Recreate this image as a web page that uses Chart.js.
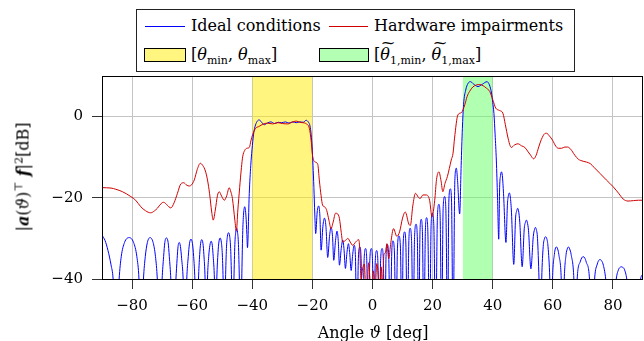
<!DOCTYPE html>
<html>
<head>
<meta charset="utf-8">
<script src="https://cdn.jsdelivr.net/npm/chart.js@4.4.1/dist/chart.umd.min.js"></script>
<style>
  body { margin: 0; background: #fff; }
  #wrap { position: relative; width: 644px; height: 341px; font-family: 'DejaVu Serif', serif; color: #000; }
  #myChart { position: absolute; left: 0; top: 0; }
  .abs { position: absolute; white-space: nowrap; }
  #legend { left: 136px; top: 9px; width: 437px; height: 61px; border: 1.5px solid #222; background: #fff; }
  .lbl { font-size: 16px; line-height: 16px; transform: translateY(-50%); }
  .line { height: 1px; }
  .swatch { border: 1px solid #000; box-sizing: border-box; }
  sub { font-size: 11px; vertical-align: -4px; line-height: 0; }
  sup { font-size: 11px; vertical-align: 6px; line-height: 0; }
  .tl { position: relative; display: inline-block; }
  .tilde { position: absolute; left: 2px; right: -2px; top: -12px; text-align: center; font-size: 14px; font-style: normal; transform: scaleX(1.3); }
  #ytitle { left: 23px; top: 177px; font-size: 16px; transform: translate(-50%, -50%) rotate(-90deg); }
  #xtitle { left: 373px; top: 332px; font-size: 16px; transform: translate(-50%, -50%); }
</style>
</head>
<body>
<div id="wrap">
  <canvas id="myChart" width="644" height="341"></canvas>
  <div id="legend" class="abs"></div>
  <div class="abs line" style="left:145px; top:26px; width:40px; background:#0000ff;"></div>
  <div class="abs lbl" style="left:191px; top:26px;">Ideal conditions</div>
  <div class="abs line" style="left:329px; top:26px; width:39px; background:#d00000;"></div>
  <div class="abs lbl" style="left:374px; top:26px;">Hardware impairments</div>
  <div class="abs swatch" style="left:144px; top:48px; width:42px; height:14px; background:#fff57f;"></div>
  <div class="abs lbl" style="left:191px; top:55px;">[<i>θ</i><sub>min</sub>, <i>θ</i><sub>max</sub>]</div>
  <div class="abs swatch" style="left:319px; top:48px; width:50px; height:14px; background:#b3ffb3;"></div>
  <div class="abs lbl" style="left:374px; top:55px;">[<span class="tl"><i>θ</i><span class="tilde">~</span></span><sub>1,min</sub>, <span class="tl"><i>θ</i><span class="tilde">~</span></span><sub>1,max</sub>]</div>
  <div id="ytitle" class="abs">|<b><i>a</i></b>(<i>ϑ</i>)<sup>⊤</sup> <b><i>f</i></b>|<sup>2</sup>[dB]</div>
  <div id="xtitle" class="abs">Angle <i>ϑ</i> [deg]</div>
</div>
<script>
const ctx = document.getElementById('myChart');

// angle ranges of the two shaded regions
const yellowBand = [-40, -20];
const greenBand = [30, 40];
const yMin = -40;
const yMax = 10;
const xTicks = [-80, -60, -40, -20, 0, 20, 40, 60, 80];
const yTicks = [-40, -20, 0];

// ideal conditions (blue)
const blueAngle = [
  -90, -89, -88, -87, -86.3, -85.3,
  -84.3, -83.6, -82.5, -81, -79.5, -78.4, -77.7, -77,
  -76.2, -75.6, -74.9, -74, -73, -72.2, -71.6, -70.8,
  -70, -69.5, -69.1, -68.6, -68, -67.6, -67.1, -66.3,
  -65.4, -65, -64.7, -64.3, -63.9, -63.5, -63, -62.4,
  -61.8, -61.3, -60.9, -60.4, -59.9, -59.5, -59.1, -58.5,
  -57.9, -57.5, -57.2, -56.8, -56.4, -56.1, -55.7, -55.3,
  -54.9, -54.5, -54.1, -53.7, -53.3, -53, -52.6, -52.2,
  -51.8, -51.4, -51.1, -50.7, -50.3, -50, -49.7, -49.3,
  -48.9, -48.6, -48.3, -47.9, -47.5, -47.2, -46.9, -46.5,
  -46.1, -45.8, -45.5, -45.2, -44.9, -44.6, -44.3, -43.9,
  -43.5, -43.2, -42.9, -42.5, -42.1, -41.8, -41.6,
  -41, -40.5, -40.1, -39.6, -39.1, -38.4, -37.7, -36.9, -36, -35, -33.8, -32.6, -31.4, -30.2, -29,
  -27.8, -26.6, -25.4, -24.2, -23, -22.1, -21.3, -20.8, -20.4, -20.1, -19.8, -19.5, -19.2, -18.9,
  -18.4, -17.9, -17.5, -17.1,
  -16.5, -16, -15.5, -14.9,
  -14.3, -13.8, -13.3, -12.9,
  -12.3, -11.8, -11.4, -11,
  -10.4, -9.9, -9.5, -9,
  -8.5, -8, -7.6, -7.1,
  -6.6, -6.1, -5.7, -5.2,
  -4.7, -4.2, -3.8, -3.3,
  -2.8, -2.3, -1.9, -1.4,
  -0.9, -0.4, 0, 0.5,
  0.9, 1.4, 1.8, 2.3,
  2.7, 3.2, 3.6, 4.1,
  4.5, 4.9, 5.4, 5.9,
  6.4, 6.8, 7.3, 7.8,
  8.3, 8.8, 9.3, 9.8,
  10.2, 10.7, 11.1, 11.6,
  12.1, 12.5, 13, 13.5,
  14, 14.5, 14.9, 15.4,
  15.8, 16.2, 16.6, 17.1,
  17.6, 18, 18.4, 19,
  19.5, 19.9, 20.4, 21,
  21.6, 22.1, 22.5, 23,
  23.5, 24, 24.4, 25,
  25.4, 25.9, 26.3, 26.8,
  27.4, 27.9, 28.3, 29,
  29.5, 29.9, 30.3, 31, 31.8, 32.6, 33.5, 35.1, 36.6, 38.1, 38.9, 39.6, 40, 40.4, 40.8, 41.2, 41.6, 42,
  42.3, 42.6, 42.9, 43.2, 43.6, 44.4,
  44.9, 45.2, 45.5, 45.8, 46.2, 47,
  47.6, 48, 48.3, 48.6, 49, 49.8,
  50.5, 50.9, 51.2, 51.5, 51.9, 52.7,
  53.5, 53.9, 54.2, 54.5, 54.9, 55.4, 55.9,
  56.3, 56.8, 57.2, 57.6, 58, 58.4, 59, 59.5,
  59.9, 60.5, 60.8, 61.2, 61.6, 62, 62.8, 63.3,
  63.8, 64.4, 64.8, 65.2, 65.6, 66.1, 67, 67.6,
  68.1, 69.1, 69.6, 70.1, 70.6, 71.1, 72.2, 73,
  73.9, 74.8, 75.3, 75.7, 76.1, 76.7, 77.6, 79.3,
  81.1, 81.9, 82.4, 82.8, 83.2, 83.8, 84.6, 86.8,
  89.2, 90
];
const blueGain = [
  -29.2, -30.5, -33, -36.5, -40, -55,
  -40, -34.5, -31, -29.8, -31, -34.5, -40, -55,
  -40, -34.5, -31, -29.8, -31, -34.5, -40, -55,
  -40, -34.5, -31, -29.9, -31, -34.5, -40, -55,
  -40, -35, -32, -31, -32, -35, -40, -55,
  -40, -34.5, -31.3, -30.2, -31.3, -34.5, -40, -55,
  -40, -34, -31.3, -30.3, -31.3, -34, -40, -55,
  -40, -34.5, -31.7, -30.7, -31.7, -34.5, -40, -55,
  -40, -33.5, -30.9, -29.9, -30.9, -33.5, -40, -55,
  -40, -32.5, -29.6, -28.6, -29.6, -32.5, -40, -55,
  -40, -31.5, -28.5, -27.5, -28.5, -31.5, -40, -55,
  -40, -29, -24, -22.2, -24.5, -29, -32.3,
  -18.9, -12, -8.2, -4.5, -2.5, -1.2, -0.8, -1.4, -2, -1.6, -1.3, -1.7, -1.4, -1.5, -1.3,
  -1.6, -1.3, -1.5, -1.3, -1.4, -0.9, -1.4, -2.3, -4.5, -7.4, -12, -17.5, -24, -28.8,
  -23.5, -22, -24.5, -32.9,
  -27, -25, -27, -34.7,
  -29.5, -27.3, -29.5, -35.4,
  -30.5, -28.2, -30.5, -36.6,
  -32.5, -30.4, -32.5, -37.4,
  -33.5, -31.3, -33.5, -37.9,
  -34, -31.7, -34, -55,
  -35, -32.1, -35, -55,
  -35.5, -32.5, -35.5, -55,
  -35.5, -32.5, -35.5, -55,
  -36, -33, -36, -55,
  -35.5, -32.5, -35.5, -55,
  -34.5, -31.5, -34.5, -55,
  -33.6, -30.6, -33.6, -55,
  -32.4, -29.4, -32.4, -55,
  -31.4, -28.4, -31.4, -55,
  -30.5, -27.5, -30.5, -55,
  -29.5, -26.5, -29.5, -55,
  -28.3, -25.3, -28.3, -55,
  -27.9, -24.9, -27.9, -55,
  -26.8, -23.8, -26.8, -55,
  -24.6, -21.6, -24.6, -55,
  -22.7, -19.7, -22.7, -55,
  -20.8, -17.8, -20.8, -55,
  -15.7, -12.7, -15.7, -24,
  -12, -3, 3, 6.5, 8.2, 8.6, 8.1, 7.4, 8, 8.6, 7.8, 5.8, 3.5, 0.8, -4.5, -10.7, -20, -30.2,
  -17.5, -14.5, -13.6, -14.5, -19, -31,
  -21.5, -19.5, -18.8, -19.5, -23, -36.4,
  -25, -23.2, -22.6, -23.2, -26, -37,
  -27.5, -26, -25.5, -26, -28, -37.5,
  -29.5, -27.8, -27.3, -27.8, -30, -40, -55,
  -40, -32, -30.1, -29.6, -30.1, -32, -40, -55,
  -40, -34, -32.6, -32.1, -32.6, -34, -40, -55,
  -40, -34, -32.6, -32.1, -32.6, -34, -40, -55,
  -40, -35.8, -34.8, -34.5, -34.8, -35.8, -40, -55,
  -40, -36.3, -35.4, -35.2, -35.4, -36.3, -40, -55,
  -40, -37.6, -37.1, -37, -37.1, -37.6, -40, -55,
  -40, -38.7
];

// hardware impairments (red)
const redAngle = [
  -90, -87, -85.4, -83.2, -80.4, -78.8, -77.1, -75.5, -73.8, -72.5,
  -71.6, -70.3, -69.5, -68.3, -67.1, -66, -64.9, -63.8, -62.8, -61.8,
  -61, -60.2, -59.3, -58.3, -57.3, -56.5, -55.6, -54.9, -54.2, -53.5,
  -53, -52.3, -51.6, -51, -50.2, -49.3, -48.5, -47.7, -47.1, -46.6,
  -45.8, -45.3, -44.8, -44.2, -43.6, -43.2, -42.5, -41.8, -41, -40.4,
  -39.9, -39, -37.7, -36.5, -35, -33.2, -31.5, -30, -28.2, -26.8,
  -25.4, -24.2, -23.2, -22, -21, -20.4, -19.9, -19, -18.2, -17.7,
  -17.1, -16.6, -15.8, -15.2, -14.5, -13.8, -13.1, -12.3, -11.7, -11,
  -10.4, -9.9, -9, -8.2, -7.4, -6.6, -5.5, -4.6, -4.2, -3.8,
  -3.3, -2.7, -2.3, -1.8, -1.3, -0.8, -0.3, 0.3, 0.9, 1.4,
  1.9, 2.4, 2.9, 3.3, 3.8, 4.3, 4.8, 5.4, 6.1, 7,
  8.1, 9, 10, 10.9, 12.1, 12.6, 13.4, 14.3, 15.2, 15.8,
  16.8, 17.9, 19, 19.8, 20.7, 21.3, 22.1, 22.8, 23.4, 24.1,
  24.9, 26.2, 26.8, 27.3, 28.4, 29.6, 30.7, 31.5, 32.3, 33.4,
  34.6, 35.7, 36.8, 37.9, 39, 40, 41, 42.3, 43.4, 44.2,
  45.1, 45.8, 46.2, 47.2, 48.4, 49.6, 50.7, 51.6, 52.6, 53.6,
  54.4, 55.3, 56.2, 57.3, 57.9, 58.9, 59.9, 61, 61.8, 62.9,
  64, 64.9, 65.9, 67.3, 68.5, 70.1, 71.2, 72.5, 73.7, 75.7,
  77.8, 80.1, 82, 83.4, 85, 86.8, 88.5, 90
];
const redGain = [
  -17.5, -17.6, -17.9, -18.5, -19.7, -20.6, -22.2, -23.2, -23.7, -23.2,
  -22.6, -21.4, -21.1, -21.8, -22.5, -21.2, -18.9, -16.6, -16.3, -16.9,
  -17.1, -16.8, -15.6, -13, -11.5, -12, -13.4, -15.6, -19, -23.5,
  -25.5, -23, -19.5, -18.5, -19.6, -20.6, -19.5, -17.5, -18.6, -20.2,
  -25.5, -28.2, -23, -17.5, -12.5, -9.9, -8.3, -7.8, -7.6, -5.8,
  -4.5, -3, -2.4, -1.9, -1.6, -1.8, -1.5, -1.7, -1.8, -1.4,
  -1.1, -1.4, -1.5, -1.8, -2.9, -6, -9.9, -11.2, -11.8, -15.6,
  -19.5, -21.8, -22.3, -23.2, -25.5, -27.6, -26, -23.8, -23.9, -25.1,
  -28.5, -30.9, -30.5, -30, -30.9, -31.7, -30.8, -30.3, -33, -40.5,
  -37.5, -36.3, -42, -43, -36, -40.5, -45, -38, -43, -36.2,
  -39, -45, -37, -42, -34, -33.5, -31.3, -35, -31, -27.6,
  -29.5, -28.4, -25, -23.5, -26.5, -26.8, -22, -18.9, -19.8, -20.2,
  -19.3, -19.3, -20.6, -24.7, -20.6, -15.5, -13.6, -15.8, -18.5, -16.5,
  -14.8, -10.7, -9, -5.3, 0.4, 1, 2.9, 5, 6.2, 7.3,
  7.8, 7.9, 7.6, 7, 6.2, 4.2, 2.1, 1.5, 0.8, -2,
  -5.3, -7.2, -7.6, -7, -6.7, -7.2, -7.6, -8.5, -9.5, -10.4,
  -9.6, -7.5, -5.6, -4.2, -4.1, -4.8, -5.8, -7.3, -7.8, -7.8,
  -7.5, -7.5, -8, -9.5, -10.5, -11, -11.2, -11.6, -12.5, -14,
  -15.6, -17.3, -19, -20.3, -20.8, -20.7, -20.6, -20.6
];

if (blueAngle.length != blueGain.length || redAngle.length != redGain.length) {
  throw new Error('length mismatch ' + blueAngle.length + '/' + blueGain.length + ' ' + redAngle.length + '/' + redGain.length);
}

function toPoints(xs, ys) {
  return xs.map((x, i) => ({x: x, y: ys[i]}));
}
function band(r) {
  return [{x: r[0], y: yMax}, {x: r[1], y: yMax}];
}

// box around the plot area
const frame = {
  id: 'frame',
  afterDatasetsDraw(chart) {
    const a = chart.chartArea;
    const c = chart.ctx;
    c.save();
    c.strokeStyle = '#000';
    c.lineWidth = 1;
    c.strokeRect(Math.round(a.left) + 0.5, Math.round(a.top) + 0.5,
      Math.round(a.right) - Math.round(a.left) - 1, Math.round(a.bottom) - Math.round(a.top));
    c.restore();
  }
};

const minus = v => String(v).replace('-', '\u2212');

new Chart(ctx, {
  type: 'line',
  data: {
    datasets: [
      { label: 'Hardware impairments', data: toPoints(redAngle, redGain), borderColor: '#d00000',
        borderWidth: 1, pointRadius: 0, cubicInterpolationMode: 'monotone', order: 0 },
      { label: 'Ideal conditions', data: toPoints(blueAngle, blueGain), borderColor: '#0000ff',
        borderWidth: 1, pointRadius: 0, cubicInterpolationMode: 'monotone', order: 1 },
      { label: 'yellow', data: band(yellowBand), borderWidth: 0, pointRadius: 0,
        fill: 'start', backgroundColor: 'rgba(255,235,0,0.5)', order: 2 },
      { label: 'green', data: band(greenBand), borderWidth: 0, pointRadius: 0,
        fill: 'start', backgroundColor: 'rgba(100,255,100,0.5)', order: 2 }
    ]
  },
  options: {
    responsive: false,
    animation: false,
    layout: { padding: { left: 0, top: 76, right: 1, bottom: 0 } },
    plugins: { legend: { display: false }, tooltip: { enabled: false } },
    scales: {
      x: {
        type: 'linear', min: -90, max: 90,
        afterBuildTicks: s => { s.ticks = xTicks.map(v => ({value: v})); },
        afterFit: s => { s.height = 62; s.paddingLeft = 0; s.paddingRight = 0; },
        border: { display: false },
        grid: { color: '#c4c4c4', tickColor: '#333', tickLength: 10 },
        ticks: { padding: 8, color: '#000', autoSkip: false,
          font: { family: 'DejaVu Serif', size: 15 }, callback: minus, maxRotation: 0 }
      },
      y: {
        min: yMin, max: yMax,
        afterBuildTicks: s => { s.ticks = yTicks.map(v => ({value: v})); },
        afterFit: s => { s.width = 102; },
        border: { display: false },
        grid: { color: '#c4c4c4', tickColor: '#333', tickLength: 10 },
        ticks: { padding: 9, color: '#000',
          font: { family: 'DejaVu Serif', size: 15 }, callback: minus }
      }
    }
  },
  plugins: [frame]
});
</script>
</body>
</html>
